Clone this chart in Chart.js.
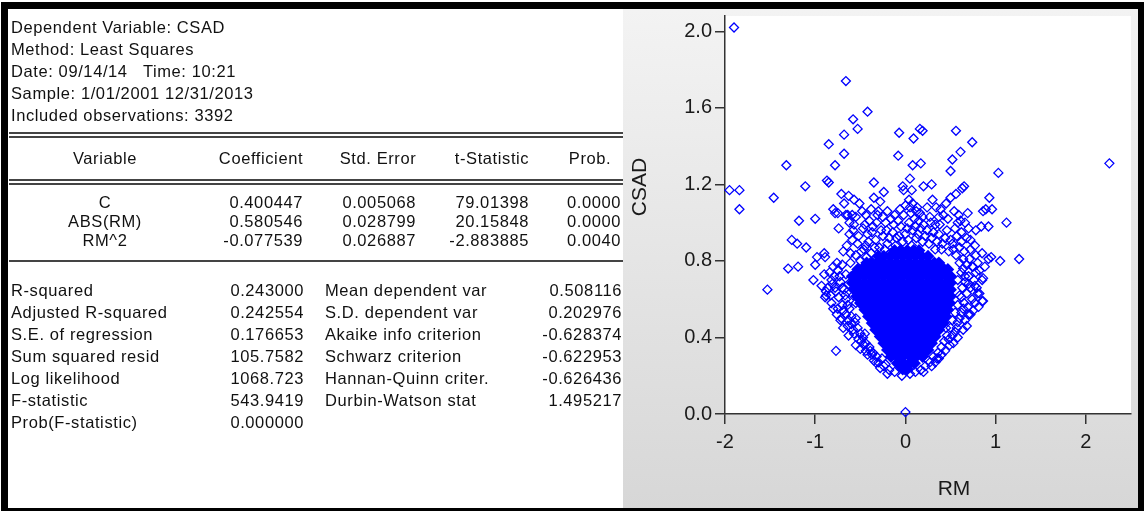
<!DOCTYPE html>
<html>
<head>
<meta charset="utf-8">
<script src="https://cdn.jsdelivr.net/npm/chart.js@4.4.1/dist/chart.umd.min.js"></script>
<style>
  body { margin: 0; width: 1144px; height: 511px; overflow: hidden; position: relative; background: #fff;
         font-family: "Liberation Sans", Arial, sans-serif; }
  .t { position: absolute; font-size: 16.5px; line-height: 22px; letter-spacing: 0.6px; color: #111; white-space: pre; }
  .rule { position: absolute; left: 9px; width: 614px; background: #444; }
  #panel { position: absolute; left: 623px; top: 9px; width: 515px; height: 499px;
           background: linear-gradient(#f3f3f3, #d7d7d7); }
  #plot { position: absolute; left: 623px; top: 9px; }
  #frame { position: absolute; left: 1px; top: 2px; width: 1143px; height: 509px; box-sizing: border-box;
           border: solid #000; border-width: 7px 6px 3px 7px; pointer-events: none; }
</style>
</head>
<body>
<div id="panel"></div>
<canvas id="plot" width="515" height="499"></canvas>
<div id="frame"></div>
<script>
// regression output
const headerLines = ["Dependent Variable: CSAD", "Method: Least Squares", "Date: 09/14/14   Time: 10:21",
  "Sample: 1/01/2001 12/31/2013", "Included observations: 3392"];
const coefHeads = ["Variable", "Coefficient", "Std. Error", "t-Statistic", "Prob."];
const variables = ["C", "ABS(RM)", "RM^2"];
const coefficients = ["0.400447", "0.580546", "-0.077539"];
const stdErrors = ["0.005068", "0.028799", "0.026887"];
const tStats = ["79.01398", "20.15848", "-2.883885"];
const probs = ["0.0000", "0.0000", "0.0040"];
const statLabelsL = ["R-squared", "Adjusted R-squared", "S.E. of regression", "Sum squared resid",
  "Log likelihood", "F-statistic", "Prob(F-statistic)"];
const statValuesL = ["0.243000", "0.242554", "0.176653", "105.7582", "1068.723", "543.9419", "0.000000"];
const statLabelsR = ["Mean dependent var", "S.D. dependent var", "Akaike info criterion", "Schwarz criterion",
  "Hannan-Quinn criter.", "Durbin-Watson stat"];
const statValuesR = ["0.508116", "0.202976", "-0.628374", "-0.622953", "-0.626436", "1.495217"];

// scatter: single observations, [RM, CSAD]
const sparsePoints = [
  [-1.90,2.02],[-1.95,1.17],[-1.84,1.17],[-1.84,1.07],[-1.53,0.65],[-1.46,1.13],[-1.32,1.30],[-1.30,0.76],
  [-1.26,0.91],[-1.20,0.89],[-1.19,0.77],[-1.18,1.01],[-1.11,1.19],[-1.10,0.87],[-1.02,0.70],[-1.00,1.02],
  [-1.00,0.78],[-0.98,0.82],[-0.93,0.67],[-0.90,0.84],[-0.90,0.73],[-0.89,0.82],[-0.88,0.62],[-0.87,1.22],
  [-0.85,1.41],[-0.85,1.21],[-0.82,0.58],[-0.80,1.07],[-0.78,1.30],[-0.78,1.05],[-0.77,0.33],[-0.75,1.05],
  [-0.74,0.97],[-0.72,0.49],[-0.71,1.15],[-0.69,0.85],[-0.68,1.46],[-0.68,1.36],[-0.68,1.10],[-0.66,1.74],
  [-0.66,1.04],[-0.64,1.04],[-0.64,0.46],[-0.63,1.14],[-0.62,0.94],[-0.61,0.79],[-0.59,1.04],[-0.59,0.91],
  [-0.58,1.54],[-0.57,1.12],[-0.57,0.42],[-0.53,1.49],[-0.53,0.89],[-0.51,1.10],[-0.47,0.97],[-0.46,0.86],
  [-0.46,0.36],[-0.42,1.58],[-0.42,0.94],[-0.39,0.33],[-0.37,0.95],[-0.35,1.21],[-0.35,1.13],[-0.32,1.00],
  [-0.28,1.11],[-0.25,1.03],[-0.24,1.16],[-0.24,0.25],[-0.21,0.96],[-0.16,1.02],[-0.08,1.35],[-0.07,1.47],
  [-0.06,1.07],[-0.04,0.20],[-0.03,1.19],[-0.02,1.17],[0.00,0.01],[0.04,1.12],[0.05,1.23],[0.05,1.08],
  [0.07,1.17],[0.08,1.30],[0.08,1.10],[0.09,1.44],[0.13,1.08],[0.16,1.49],[0.16,1.05],[0.17,1.31],
  [0.19,1.48],[0.19,1.03],[0.20,1.19],[0.25,0.28],[0.28,1.00],[0.29,1.20],[0.34,1.08],[0.37,0.29],
  [0.45,1.10],[0.45,0.45],[0.48,0.39],[0.50,1.27],[0.52,1.33],[0.54,1.06],[0.56,1.48],[0.56,1.15],
  [0.59,1.04],[0.61,1.37],[0.61,1.01],[0.62,0.95],[0.63,1.18],[0.65,1.19],[0.68,0.92],[0.69,1.05],
  [0.69,0.56],[0.70,0.97],[0.70,0.52],[0.72,0.86],[0.74,1.42],[0.74,0.77],[0.77,0.67],[0.78,0.96],
  [0.78,0.83],[0.80,0.63],[0.81,0.56],[0.84,0.98],[0.85,0.84],[0.85,0.70],[0.85,0.59],[0.86,1.06],
  [0.89,1.07],[0.92,0.98],[0.92,0.81],[0.93,1.13],[0.95,0.82],[0.96,1.07],[1.03,1.26],[1.05,0.80],
  [1.12,1.00],[1.26,0.81],[2.26,1.31],
  // top of the cloud
  [-0.55,0.83],[-0.50,0.80],[-0.44,0.88],[-0.38,0.84],[-0.33,0.91],[-0.29,0.87],[-0.25,0.93],[-0.20,0.89],
  [-0.14,0.95],[-0.10,0.92],[-0.05,0.98],[0.00,0.94],[0.04,1.00],[0.08,0.96],[0.12,0.92],[0.17,0.97],
  [0.22,0.93],[0.26,0.89],[0.31,0.95],[0.35,0.90],[0.40,0.86],[0.44,0.92],[0.48,0.85],[0.52,0.89],
  [0.56,0.83],[0.60,0.87],[0.64,0.81],[-0.58,0.96],[-0.40,1.01],[-0.12,1.04],[0.10,1.02],[0.38,0.99],
  [0.55,0.97],[0.42,1.04],[-0.48,1.06],[-0.30,1.06],[0.24,1.08],
  [-0.65,0.88],[-0.61,0.84],[-0.57,0.99],[-0.52,0.93],[-0.49,0.85],[-0.45,0.99],[-0.43,0.82],[-0.41,0.90],
  [-0.36,0.98],[-0.34,0.87],[-0.31,1.04],[-0.27,0.96],[-0.23,0.86],[-0.22,1.00],[-0.18,0.92],[-0.17,0.84],
  [-0.13,0.99],[-0.11,0.88],[-0.08,1.01],[-0.07,0.93],[-0.03,0.90],[-0.02,1.04],[0.02,0.97],[0.03,0.91],
  [0.06,1.05],[0.07,0.88],[0.11,0.98],[0.14,0.94],[0.15,1.01],[0.19,0.90],[0.20,0.99],[0.24,0.96],
  [0.27,1.03],[0.29,0.92],[0.33,0.86],[0.33,0.99],[0.37,0.94],[0.39,1.07],[0.41,0.89],[0.46,0.96],
  [0.47,1.02],[0.50,0.91],[0.53,0.86],[0.57,0.93],[0.58,1.00],[0.62,0.90],[0.65,0.85],[0.66,1.00],
  [-0.62,1.00],[-0.55,1.03],[-0.44,1.04],[-0.38,1.07],[-0.20,1.06],[0.00,1.09],[0.12,1.06],[0.30,1.12],
  [0.37,1.03],[0.50,1.13],
  // left arm
  [-0.70,0.78],[-0.66,0.73],[-0.72,0.69],[-0.68,0.65],[-0.66,0.60],[-0.70,0.57],[-0.62,0.55],[-0.60,0.51],
  [-0.56,0.48],[-0.53,0.45],[-0.50,0.42],[-0.47,0.40],[-0.44,0.37],[-0.40,0.35],[-0.36,0.32],[-0.32,0.30],
  [-0.30,0.27],[-0.26,0.29],[-0.22,0.26],[-0.18,0.23],[-0.12,0.22],[-0.60,0.72],[-0.63,0.68],[-0.58,0.62],
  [-0.55,0.58],[-0.82,0.70],[-0.78,0.66],[-0.80,0.77],[-0.74,0.61],[-0.66,0.52],[-0.60,0.47],[-0.52,0.39],
  [-0.44,0.33],[-0.37,0.31],[-0.35,0.28],[-0.75,0.75],[-0.79,0.72],[-0.77,0.64],[-0.75,0.55],[-0.71,0.50],
  [-0.89,0.61],[-0.88,0.64],
  [-0.84,0.74],[-0.81,0.68],[-0.76,0.79],[-0.73,0.72],[-0.70,0.66],[-0.67,0.62],[-0.69,0.54],[-0.64,0.57],
  [-0.63,0.49],[-0.58,0.44],[-0.55,0.50],[-0.49,0.38],[-0.45,0.42],[-0.42,0.31],[-0.33,0.27],[-0.28,0.24],
  [-0.20,0.21],[-0.86,0.66],[-0.83,0.62],[-0.80,0.55],[-0.76,0.52],[-0.69,0.45],[-0.63,0.41],[-0.55,0.36],
  [-0.50,0.34],
  // right arm
  [0.60,0.79],[0.62,0.74],[0.58,0.70],[0.63,0.66],[0.60,0.62],[0.58,0.57],[0.55,0.53],[0.52,0.49],
  [0.50,0.45],[0.46,0.41],[0.43,0.38],[0.40,0.35],[0.36,0.32],[0.31,0.30],[0.27,0.27],[0.22,0.25],
  [0.17,0.23],[0.11,0.22],[0.05,0.21],[0.68,0.78],[0.70,0.72],[0.66,0.69],[0.68,0.63],[0.65,0.58],
  [0.62,0.53],[0.58,0.48],[0.55,0.43],[0.66,0.49],[0.74,0.60],[0.78,0.74],[0.80,0.79],[0.72,0.66],
  [0.40,0.31],[0.33,0.27],[0.86,0.71],[0.82,0.63],[0.86,0.59],[0.72,0.52],[0.72,0.91],[0.75,0.77],
  [0.64,0.76],[0.66,0.72],[0.70,0.68],[0.62,0.61],[0.64,0.55],[0.60,0.50],[0.57,0.45],[0.52,0.41],
  [0.49,0.36],[0.44,0.33],[0.35,0.29],[0.29,0.25],[0.20,0.22],[0.76,0.70],[0.79,0.66],[0.77,0.58],
  [0.75,0.54],[0.68,0.46],[0.64,0.44],[0.58,0.40],[0.53,0.37],[0.82,0.75],[0.88,0.77],[0.71,0.81],
  [0.77,0.88]
];

// the dense core, where markers overlap into a solid patch: CSAD level and the RM values around it
const coreCsad = [0.235, 0.265, 0.30, 0.335, 0.37, 0.405, 0.44, 0.475, 0.51, 0.545, 0.58,
  0.615, 0.65, 0.685, 0.72, 0.755, 0.79, 0.825, 0.855];
const coreRm = [
  [-0.03, 0.02],
  [-0.09, -0.02, 0.05, 0.10],
  [-0.16, -0.09, -0.03, 0.05, 0.12, 0.19],
  [-0.20, -0.13, -0.06, 0.01, 0.08, 0.16, 0.22, 0.25],
  [-0.24, -0.17, -0.10, -0.03, 0.04, 0.11, 0.18, 0.24, 0.29],
  [-0.28, -0.21, -0.14, -0.07, 0.00, 0.07, 0.14, 0.21, 0.27, 0.33],
  [-0.33, -0.26, -0.19, -0.12, -0.05, 0.02, 0.09, 0.16, 0.23, 0.30, 0.37],
  [-0.37, -0.30, -0.23, -0.16, -0.09, -0.02, 0.05, 0.12, 0.19, 0.26, 0.33, 0.39, 0.42],
  [-0.41, -0.34, -0.27, -0.20, -0.13, -0.06, 0.01, 0.08, 0.15, 0.22, 0.29, 0.36, 0.42, 0.45],
  [-0.45, -0.38, -0.31, -0.24, -0.17, -0.10, -0.03, 0.04, 0.11, 0.18, 0.25, 0.32, 0.39, 0.45, 0.47],
  [-0.50, -0.43, -0.36, -0.29, -0.22, -0.15, -0.08, -0.01, 0.06, 0.13, 0.20, 0.27, 0.34, 0.41, 0.47, 0.49],
  [-0.54, -0.47, -0.40, -0.33, -0.26, -0.19, -0.12, -0.05, 0.02, 0.09, 0.16, 0.23, 0.30, 0.37, 0.44, 0.50],
  [-0.57, -0.50, -0.43, -0.36, -0.29, -0.22, -0.15, -0.08, -0.01, 0.06, 0.13, 0.20, 0.27, 0.34, 0.41, 0.47, 0.50],
  [-0.59, -0.53, -0.46, -0.39, -0.32, -0.25, -0.18, -0.11, -0.04, 0.03, 0.10, 0.17, 0.24, 0.31, 0.38, 0.45, 0.50],
  [-0.58, -0.52, -0.45, -0.38, -0.31, -0.24, -0.17, -0.10, -0.03, 0.04, 0.11, 0.18, 0.25, 0.32, 0.39, 0.46, 0.50],
  [-0.53, -0.48, -0.41, -0.34, -0.27, -0.20, -0.13, -0.06, 0.01, 0.08, 0.15, 0.22, 0.29, 0.36, 0.43, 0.47],
  [-0.43, -0.37, -0.31, -0.24, -0.17, -0.10, -0.03, 0.04, 0.11, 0.18, 0.25, 0.32, 0.37],
  [-0.30, -0.24, -0.17, -0.10, -0.03, 0.04, 0.11, 0.18, 0.25],
  [-0.12, -0.05, 0.02, 0.09, 0.15]
];

const xTicks = [-2, -1, 0, 1, 2];
const yTicks = [0, 0.4, 0.8, 1.2, 1.6, 2.0];

// ---- left panel text
function put(text, x, cy, align) {
  const d = document.createElement("div");
  d.className = "t";
  d.textContent = text;
  d.style.top = (cy - 11) + "px";
  if (align === "right") d.style.right = (1144 - x) + "px";
  else if (align === "center") { d.style.left = x + "px"; d.style.transform = "translateX(-50%)"; }
  else d.style.left = x + "px";
  document.body.appendChild(d);
}
function rule(y, h) {
  const r = document.createElement("div");
  r.className = "rule";
  r.style.top = y + "px";
  r.style.height = h + "px";
  document.body.appendChild(r);
}

headerLines.forEach((s, i) => put(s, 11, 26.5 + 22 * i));
rule(132, 1.5); rule(136, 1.5);
const headX = [105, 261, 378, 492, 590];
coefHeads.forEach((s, i) => put(s, headX[i], 158, "center"));
rule(179, 1.5); rule(183, 1.5);
variables.forEach((v, i) => {
  const cy = 202 + 19 * i;
  put(v, 105, cy, "center");
  put(coefficients[i], 303, cy, "right");
  put(stdErrors[i], 416, cy, "right");
  put(tStats[i], 529, cy, "right");
  put(probs[i], 621, cy, "right");
});
rule(260, 2);
statLabelsL.forEach((s, i) => {
  const cy = 290 + 22 * i;
  put(s, 11, cy);
  put(statValuesL[i], 304, cy, "right");
  if (i < statLabelsR.length) {
    put(statLabelsR[i], 325, cy);
    put(statValuesR[i], 622, cy, "right");
  }
});

// ---- scatter
const corePoints = [];
coreCsad.forEach((y, i) => coreRm[i].forEach(x => corePoints.push({ x: x, y: y })));

const plotBackground = {
  id: "plotBackground",
  beforeDraw(chart) {
    const { ctx, chartArea: a } = chart;
    ctx.save();
    ctx.fillStyle = "#fff";
    ctx.fillRect(a.left, a.top, a.right - a.left, a.bottom - a.top);
    ctx.restore();
  }
};
const axisTitles = {
  id: "axisTitles",
  afterDraw(chart) {
    const { ctx, chartArea: a } = chart;
    ctx.save();
    ctx.fillStyle = "#1a1a1a";
    ctx.font = '21px "Liberation Sans", Arial, sans-serif';
    ctx.textAlign = "center";
    ctx.textBaseline = "middle";
    ctx.fillText("RM", a.left + 229, a.bottom + 75);
    ctx.translate(a.left - 85, a.top + 171);
    ctx.rotate(-Math.PI / 2);
    ctx.fillText("CSAD", 0, 0);
    ctx.restore();
  }
};

const tickFont = { family: '"Liberation Sans", Arial, sans-serif', size: 20 };

new Chart(document.getElementById("plot"), {
  type: "scatter",
  data: {
    datasets: [
      {
        data: sparsePoints.map(p => ({ x: p[0], y: p[1] })),
        pointStyle: "rectRot", radius: 4.5, borderWidth: 1.3,
        borderColor: "#0000ff", backgroundColor: "rgba(0,0,0,0)", clip: false
      },
      {
        data: corePoints,
        pointStyle: "rectRot", radius: 5, borderWidth: 2,
        borderColor: "#0000ff", backgroundColor: "#0000ff", clip: false
      }
    ]
  },
  options: {
    responsive: false,
    animation: false,
    events: [],
    layout: { padding: 0 },
    plugins: { legend: { display: false }, tooltip: { enabled: false } },
    scales: {
      x: {
        min: -2, max: 2.5,
        afterBuildTicks: s => { s.ticks = xTicks.map(v => ({ value: v })); },
        ticks: { color: "#1a1a1a", font: tickFont, padding: 6, maxRotation: 0, autoSkip: false },
        grid: { drawOnChartArea: false, tickLength: 10, color: "#333", lineWidth: 1.5 },
        border: { color: "#333", width: 1.5 },
        afterFit: s => { s.height = 94; s.paddingLeft = 0; s.paddingRight = 0; }
      },
      y: {
        min: 0, max: 2.08,
        afterBuildTicks: s => { s.ticks = yTicks.map(v => ({ value: v })); },
        ticks: { color: "#1a1a1a", font: tickFont, padding: 3, callback: v => v.toFixed(1), autoSkip: false },
        grid: { drawOnChartArea: false, tickLength: 10, color: "#333", lineWidth: 1.5 },
        border: { color: "#333", width: 1.5 },
        afterFit: s => { s.width = 102; s.paddingTop = 0; s.paddingBottom = 0; }
      }
    }
  },
  plugins: [plotBackground, axisTitles]
});
</script>
</body>
</html>
